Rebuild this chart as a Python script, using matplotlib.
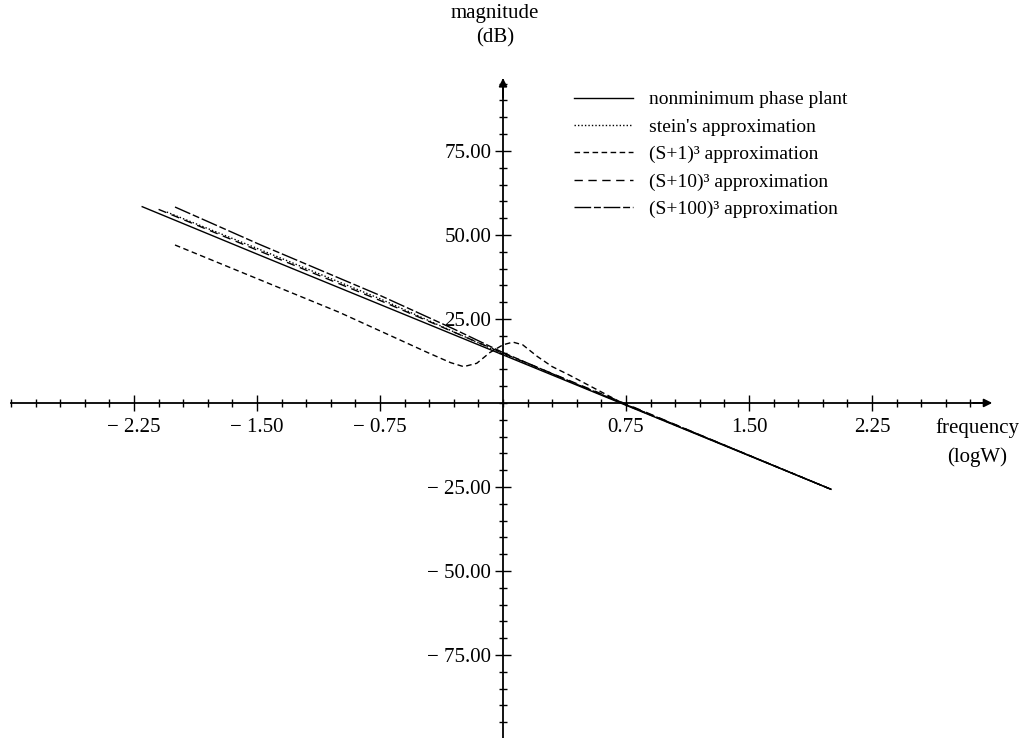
import numpy as np
import matplotlib
matplotlib.use("Agg")
import matplotlib.pyplot as plt
from matplotlib.ticker import FixedLocator

plt.rcParams["font.family"] = ["Liberation Serif", "DejaVu Serif"]

# values (log10 w, dB)
plant_w = [-2.2, -1.5, -0.75, 0.0, 0.75, 1.5, 2.0]
plant_db = [58.4, 44.3, 29.3, 14.3, -0.7, -15.7, -25.7]

stein_w = [-2.05, -1.5, -0.75, 0.0, 0.75, 1.5, 2.0]
stein_db = [56.8, 46.0, 31.0, 14.6, -0.5, -15.6, -25.7]

s1_w = [-2.0, -1.5, -1.0, -0.73, -0.46, -0.32, -0.24, -0.16, -0.08, 0.0, 0.06,
        0.12, 0.21, 0.3, 0.4, 0.75, 1.5, 2.0]
s1_db = [47.0, 37.0, 27.0, 21.0, 15.0, 12.0, 10.8, 11.8, 15.0, 17.3, 18.1,
         17.3, 13.8, 10.8, 8.4, -0.6, -15.6, -25.7]

s10_w = [-2.1, -1.5, -0.75, 0.0, 0.75, 1.5, 2.0]
s10_db = [57.6, 45.5, 30.5, 14.8, -0.3, -15.6, -25.7]

s100_w = [-2.0, -1.5, -0.75, -0.3, 0.0, 0.5, 1.0, 1.5, 2.0]
s100_db = [58.3, 47.5, 32.0, 22.0, 15.0, 4.5, -5.5, -15.6, -25.7]

labels = ["nonminimum phase plant", "stein's approximation",
          "(S+1)\u00b3 approximation", "(S+10)\u00b3 approximation",
          "(S+100)\u00b3 approximation"]

x_major = [-2.25, -1.5, -0.75, 0.75, 1.5, 2.25]
x_major_txt = ["\u2212 2.25", "\u2212 1.50", "\u2212 0.75", "0.75", "1.50", "2.25"]
y_major = [-75, -50, -25, 25, 50, 75]
y_major_txt = ["\u2212 75.00", "\u2212 50.00", "\u2212 25.00", "25.00", "50.00", "75.00"]

fig = plt.figure(figsize=(10.29, 7.38), dpi=100)
ax = fig.add_axes([0, 0, 1, 1])
ax.set_xlim(-3.067, 3.207)
ax.set_ylim(-99.7, 119.9)

ax.plot(plant_w, plant_db, color="black", lw=1.0, label=labels[0])
ax.plot(stein_w, stein_db, color="black", lw=1.0, linestyle=(0, (1, 1.5)), label=labels[1])
ax.plot(s1_w, s1_db, color="black", lw=1.0, linestyle=(0, (4, 2.5)), label=labels[2])
ax.plot(s10_w, s10_db, color="black", lw=1.0, linestyle=(0, (6, 4)), label=labels[3])
ax.plot(s100_w, s100_db, color="black", lw=1.0, linestyle=(0, (12, 2, 5, 2)), label=labels[4])

# axes through the origin
for side in ["top", "right"]:
    ax.spines[side].set_visible(False)
ax.spines["left"].set_position(("data", 0))
ax.spines["bottom"].set_position(("data", 0))
ax.spines["left"].set_bounds(-100, 96)
ax.spines["bottom"].set_bounds(-3.0, 2.95)
ax.spines["left"].set_linewidth(1.3)
ax.spines["bottom"].set_linewidth(1.3)

ax.set_xticks(x_major, x_major_txt)
ax.set_yticks(y_major, y_major_txt)
ax.xaxis.set_minor_locator(FixedLocator(np.arange(-3.0, 2.9, 0.15)))
ax.yaxis.set_minor_locator(FixedLocator(np.arange(-100, 96, 5)))
ax.tick_params(which="major", direction="inout", length=11, width=1.0, labelsize=15)
ax.tick_params(which="minor", direction="inout", length=6, width=1.0)
ax.tick_params(axis="x", which="major", pad=5)
ax.tick_params(axis="y", which="major", pad=3)

ax.annotate("", xy=(3.0, 0), xytext=(2.85, 0),
            arrowprops=dict(arrowstyle="-|>", color="black", lw=1.3, mutation_scale=12))
ax.annotate("", xy=(0, 97.5), xytext=(0, 90),
            arrowprops=dict(arrowstyle="-|>", color="black", lw=1.3, mutation_scale=12))

ax.text(2.89, -7.4, "frequency", fontsize=15, ha="center", va="center")
ax.text(2.89, -16.0, "(logW)", fontsize=15, ha="center", va="center")
ax.text(-0.05, 116.0, "magnitude", fontsize=15, ha="center", va="center")
ax.text(-0.05, 108.6, "(dB)", fontsize=15, ha="center", va="center")

ax.legend(loc="upper left", bbox_to_anchor=(0.558, 0.877), frameon=False,
          fontsize=14, handlelength=3.0, handletextpad=0.85, labelspacing=0.5,
          borderpad=0, borderaxespad=0)

fig.savefig("out.png", dpi=100)
